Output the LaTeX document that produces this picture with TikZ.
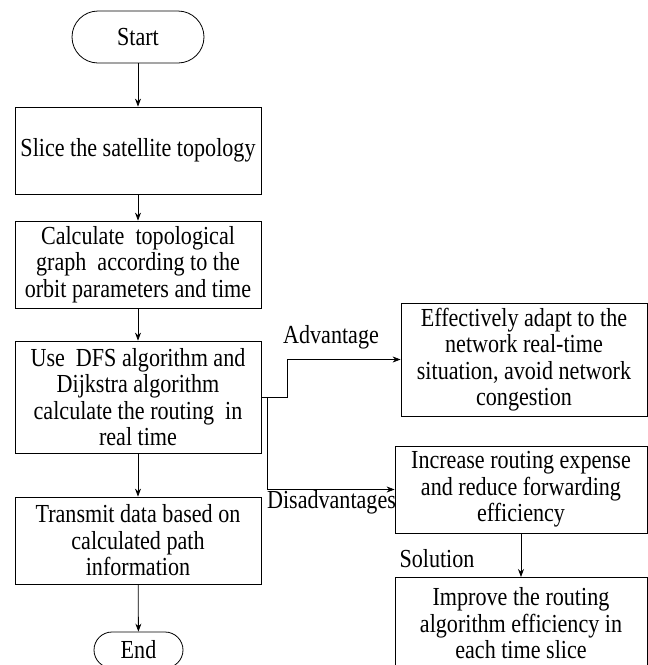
\documentclass[tikz,border=0pt]{standalone}
\usepackage{fontspec}
\setmainfont{Liberation Serif}
\newfontfamily\figfont[FakeStretch=0.85]{Liberation Serif}
\usetikzlibrary{arrows.meta}
\begin{document}
\begin{tikzpicture}[x=1pt,y=-1pt,
  every node/.style={font=\figfont\fontsize{26}{26.5}\selectfont},
  box/.style={draw, line width=0.8pt, inner sep=0pt, align=center},
  term/.style={draw, line width=0.8pt, inner sep=0pt, align=center},
  lbl/.style={inner sep=0pt},
  conn/.style={line width=0.8pt, -{Stealth[length=8pt,width=6pt]}},
  line/.style={line width=0.8pt}]
\useasboundingbox (0,0) rectangle (648,665);
\node[term, minimum width=132pt, minimum height=52pt, rounded corners=26pt] (start) at (138,37) {Start};
\node[box, minimum width=246pt, minimum height=87pt] (b1) at (138,150.5) {Slice the satellite topology};
\node[box, minimum width=246pt, minimum height=87pt] (b2) at (138,264.5) {Calculate\ \ topological\\graph\ \ according to the\\orbit parameters and time};
\node[box, minimum width=246pt, minimum height=112pt] (b3) at (138,397) {Use\ \ DFS algorithm and\\Dijkstra algorithm\\calculate the routing\ \ in\\real time};
\node[box, minimum width=246pt, minimum height=87pt] (b4) at (138,540.5) {Transmit data based on\\calculated path\\information};
\node[term, minimum width=89pt, minimum height=36pt, rounded corners=18pt] (end) at (138.5,650) {End};
\node[box, minimum width=246pt, minimum height=113pt] (ba) at (524,359.5) {Effectively adapt to the\\network real-time\\situation, avoid network\\congestion};
\node[box, minimum width=252pt, minimum height=87pt] (bb) at (521,489.5) {Increase routing expense\\and reduce forwarding\\efficiency};
\node[box, minimum width=252pt, minimum height=92pt, anchor=north] (bc) at (521,577) {Improve the routing\\algorithm efficiency in\\each time slice};
\node[lbl] (ladv) at (331,337) {Advantage};
\node[lbl] (ldis) at (331.5,502) {Disadvantages};
\node[lbl] (lsol) at (437,559) {Solution};
\coordinate (j1) at (287,397);
\coordinate (j2) at (287,359.5);
\coordinate (j3) at (267,397);
\coordinate (j4) at (267,489.5);
\draw[conn] (start) -- (b1);
\draw[conn] (b1) -- (b2);
\draw[conn] (b2) -- (b3);
\draw[conn] (b3) -- (b4);
\draw[conn] (b4) -- (end);
\draw[conn] (b3.east) -- (j1) -- (j2) -- (ba.west);
\draw[conn] (j3) -- (j4) -- (bb.west);
\draw[conn] (bb.south -| bc.north) -- (bc.north);
\end{tikzpicture}
\end{document}
